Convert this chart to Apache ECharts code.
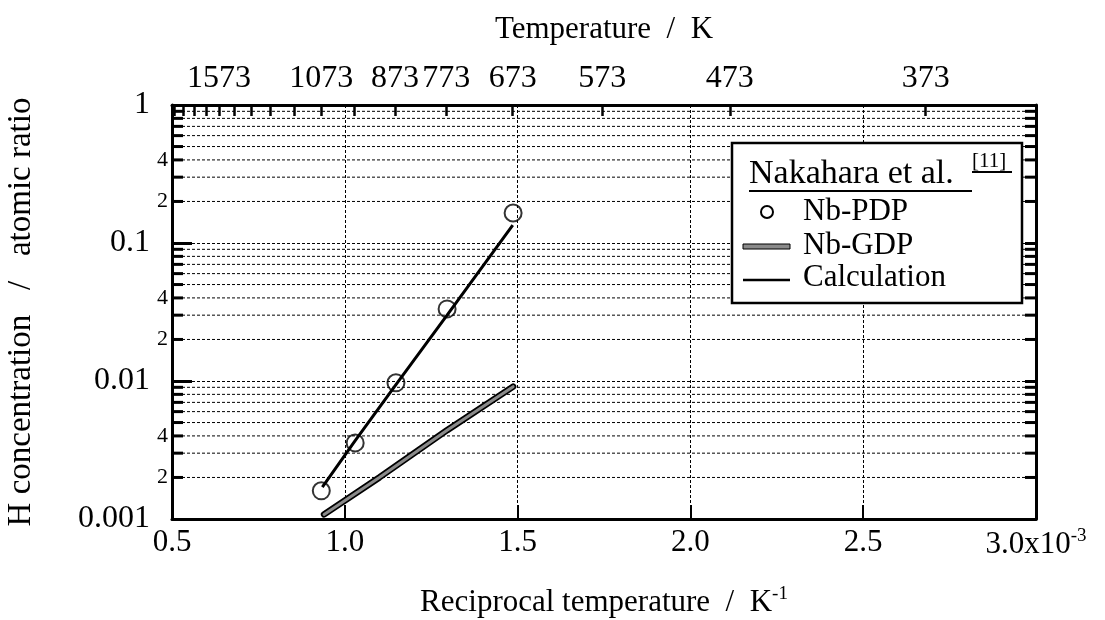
<!DOCTYPE html>
<html><head><meta charset="utf-8">
<script src="https://cdn.jsdelivr.net/npm/echarts@6/dist/echarts.min.js"></script>
<style>html,body{margin:0;padding:0;background:#fff}#c{width:1105px;height:620px}</style>
</head><body><div id="c"></div>
<script>
// ---- data (x in 10^-3 K^-1, y in atomic ratio) ----
const pdpX = [0.932, 1.030, 1.148, 1.296, 1.487];
const pdpY = [0.0016, 0.00356, 0.0097, 0.0333, 0.165];
const calcX = [0.935, 1.030, 1.148, 1.296, 1.486];
const calcY = [0.0017, 0.0037, 0.0094, 0.030, 0.135];
const gdpX = [0.94, 1.10, 1.296, 1.487];
const gdpY = [0.00108, 0.0020, 0.0044, 0.0091];

// ---- axis ticks / labels ----
const xTickValues = [0.5, 1.0, 1.5, 2.0, 2.5, 3.0];
const xTickLabels = ['0.5', '1.0', '1.5', '2.0', '2.5', '3.0x10{sup|-3}'];
const yMajorValues = [0.001, 0.01, 0.1, 1];
const yMajorLabels = ['0.001', '0.01', '0.1', '1'];
const yDecades = [0.001, 0.01, 0.1];
const yMantissas = [2, 3, 4, 5, 6, 7, 8, 9];
const yMinorLabelValues = [0.002, 0.004, 0.02, 0.04, 0.2, 0.4];
const yMinorLabels = ['2', '4', '2', '4', '2', '4'];
const topTickTemps = [1973, 1873, 1773, 1673, 1573, 1473, 1373, 1273, 1173, 1073, 973, 873, 773, 673, 573, 473, 373];
const topLabelTemps = [1573, 1073, 873, 773, 673, 573, 473, 373];

const FONT = '"Liberation Serif", "Times New Roman", serif';
const yMinorValues = [];
yDecades.forEach(d => yMantissas.forEach(m => yMinorValues.push(+(d * m).toPrecision(6))));

function near(a, b) { return Math.abs(a - b) <= 1e-6 * Math.max(Math.abs(a), Math.abs(b)); }

const chart = echarts.init(document.getElementById('c'), null, {renderer: 'canvas'});
const dash = [3, 2];
const supStyle = {fontFamily: FONT, fontSize: 19, color: '#000', padding: [0, 0, 16, 0]};

const option = {
  backgroundColor: '#fff',
  animation: false,
  grid: {left: 172, right: 69, top: 105, bottom: 101, containLabel: false, outerBoundsMode: 'none'},
  xAxis: [
    {
      type: 'value', position: 'bottom', min: 0.5, max: 3.0, interval: 0.5,
      name: 'Reciprocal temperature  /  K{sup|-1}', nameLocation: 'middle', nameGap: 66,
      nameTextStyle: {fontFamily: FONT, fontSize: 31, color: '#000', rich: {sup: supStyle}},
      axisLine: {show: true, onZero: false, lineStyle: {color: '#000', width: 3}},
      axisTick: {show: true, inside: true, length: 14, lineStyle: {color: '#000', width: 2}},
      axisLabel: {show: true, margin: 8, fontFamily: FONT, fontSize: 31, color: '#000',
        formatter: v => { const i = xTickValues.findIndex(t => Math.abs(t - v) < 1e-9); return i >= 0 ? xTickLabels[i] : ''; },
        rich: {sup: supStyle}},
      splitLine: {show: true, lineStyle: {color: '#000', width: 1, type: dash}}
    },
    {
      type: 'value', position: 'top', min: 0.5, max: 3.0,
      name: 'Temperature  /  K', nameLocation: 'middle', nameGap: 60,
      nameTextStyle: {fontFamily: FONT, fontSize: 31, color: '#000'},
      axisLine: {show: true, onZero: false, lineStyle: {color: '#000', width: 3}},
      axisTick: {show: true, inside: true, length: 11, lineStyle: {color: '#000', width: 2.5},
        customValues: topTickTemps.map(t => 1000 / t)},
      axisLabel: {show: true, margin: 10, fontFamily: FONT, fontSize: 32, color: '#000',
        customValues: topLabelTemps.map(t => 1000 / t),
        formatter: v => { const i = topLabelTemps.findIndex(t => Math.abs(1000 / t - v) < 1e-6); return i >= 0 ? String(topLabelTemps[i]) : ''; }},
      splitLine: {show: false}
    }
  ],
  yAxis: [
    {
      type: 'log', logBase: 10, min: 0.001, max: 1, position: 'left',
      name: 'H concentration   /   atomic ratio', nameLocation: 'middle', nameGap: 134, nameRotate: 90,
      nameTextStyle: {fontFamily: FONT, fontSize: 33, color: '#000'},
      axisLine: {show: true, onZero: false, lineStyle: {color: '#000', width: 3}},
      axisTick: {show: true, inside: true, length: 20, lineStyle: {color: '#000', width: 3}},
      axisLabel: {show: true, margin: 22, fontFamily: FONT, fontSize: 32, color: '#000',
        formatter: v => { const i = yMajorValues.findIndex(t => near(t, v)); return i >= 0 ? yMajorLabels[i] : ''; }},
      splitLine: {show: true, lineStyle: {color: '#000', width: 1, type: dash}}
    },
    {
      type: 'log', logBase: 10, min: 0.001, max: 1, position: 'right',
      axisLine: {show: true, onZero: false, lineStyle: {color: '#000', width: 3}},
      axisTick: {show: true, inside: true, length: 11, lineStyle: {color: '#000', width: 3}},
      axisLabel: {show: false},
      splitLine: {show: false}
    }
  ],
  series: [
    {
      type: 'custom', name: 'minor', xAxisIndex: 0, yAxisIndex: 0, silent: true, z: 1,
      data: yMinorValues.map(v => [0.5, v]),
      renderItem: (params, api) => {
        const v = api.value(1);
        const p0 = api.coord([0.5, v]);
        const p1 = api.coord([3.0, v]);
        const children = [
          {type: 'line', shape: {x1: p0[0], y1: p0[1], x2: p1[0], y2: p1[1]}, style: {stroke: '#000', lineWidth: 1, lineDash: dash}},
          {type: 'line', shape: {x1: p0[0], y1: p0[1], x2: p0[0] + 11, y2: p0[1]}, style: {stroke: '#000', lineWidth: 3}},
          {type: 'line', shape: {x1: p1[0] - 11, y1: p1[1], x2: p1[0], y2: p1[1]}, style: {stroke: '#000', lineWidth: 3}}
        ];
        const li = yMinorLabelValues.findIndex(t => near(t, v));
        if (li >= 0) {
          children.push({type: 'text', style: {text: yMinorLabels[li], x: p0[0] - 4, y: p0[1], align: 'right', verticalAlign: 'middle',
            font: '22px ' + FONT, fill: '#000'}});
        }
        return {type: 'group', children};
      }
    },
    {
      name: 'Nb-GDP outline', type: 'line', xAxisIndex: 0, yAxisIndex: 0, z: 3,
      data: gdpX.map((x, i) => [x, gdpY[i]]), showSymbol: false, symbol: 'none',
      lineStyle: {color: '#000', width: 6.5, cap: 'round'}
    },
    {
      name: 'Nb-GDP', type: 'line', xAxisIndex: 0, yAxisIndex: 0, z: 4,
      data: gdpX.map((x, i) => [x, gdpY[i]]), showSymbol: false, symbol: 'none',
      lineStyle: {color: '#8a8a8a', width: 3, cap: 'round'}
    },
    {
      name: 'Calculation', type: 'line', xAxisIndex: 0, yAxisIndex: 0, z: 4,
      data: calcX.map((x, i) => [x, calcY[i]]), showSymbol: false, symbol: 'none',
      lineStyle: {color: '#000', width: 3}
    },
    {
      name: 'Nb-PDP', type: 'scatter', xAxisIndex: 0, yAxisIndex: 0, z: 5,
      data: pdpX.map((x, i) => [x, pdpY[i]]), symbol: 'circle', symbolSize: 17,
      itemStyle: {color: 'rgba(0,0,0,0)', borderColor: '#000', borderWidth: 2}
    }
  ],
  graphic: {
    elements: [
      {type: 'rect', z: 100, shape: {x: 732, y: 143, width: 290, height: 160}, style: {fill: '#fff', stroke: '#000', lineWidth: 2.5}},
      {type: 'text', z: 101, style: {text: 'Nakahara et al.', x: 749, y: 174, verticalAlign: 'middle', align: 'left', font: '34px ' + FONT, fill: '#000'}},
      {type: 'line', z: 101, shape: {x1: 749, y1: 191, x2: 972, y2: 191}, style: {stroke: '#000', lineWidth: 2}},
      {type: 'text', z: 101, style: {text: '[11]', x: 972, y: 161, verticalAlign: 'middle', align: 'left', font: '21px ' + FONT, fill: '#000'}},
      {type: 'line', z: 101, shape: {x1: 972, y1: 172, x2: 1012, y2: 172}, style: {stroke: '#000', lineWidth: 2}},
      {type: 'circle', z: 101, shape: {cx: 767, cy: 212, r: 6}, style: {fill: 'none', stroke: '#000', lineWidth: 2}},
      {type: 'text', z: 101, style: {text: 'Nb-PDP', x: 803, y: 212, verticalAlign: 'middle', align: 'left', font: '31px ' + FONT, fill: '#000'}},
      {type: 'rect', z: 101, shape: {x: 743, y: 244, width: 47, height: 5}, style: {fill: '#8a8a8a', stroke: '#000', lineWidth: 1}},
      {type: 'text', z: 101, style: {text: 'Nb-GDP', x: 803, y: 246, verticalAlign: 'middle', align: 'left', font: '31px ' + FONT, fill: '#000'}},
      {type: 'line', z: 101, shape: {x1: 743, y1: 280, x2: 790, y2: 280}, style: {stroke: '#000', lineWidth: 2.5}},
      {type: 'text', z: 101, style: {text: 'Calculation', x: 803, y: 278, verticalAlign: 'middle', align: 'left', font: '31px ' + FONT, fill: '#000'}}
    ]
  }
};
chart.setOption(option);
</script>
</body></html>
